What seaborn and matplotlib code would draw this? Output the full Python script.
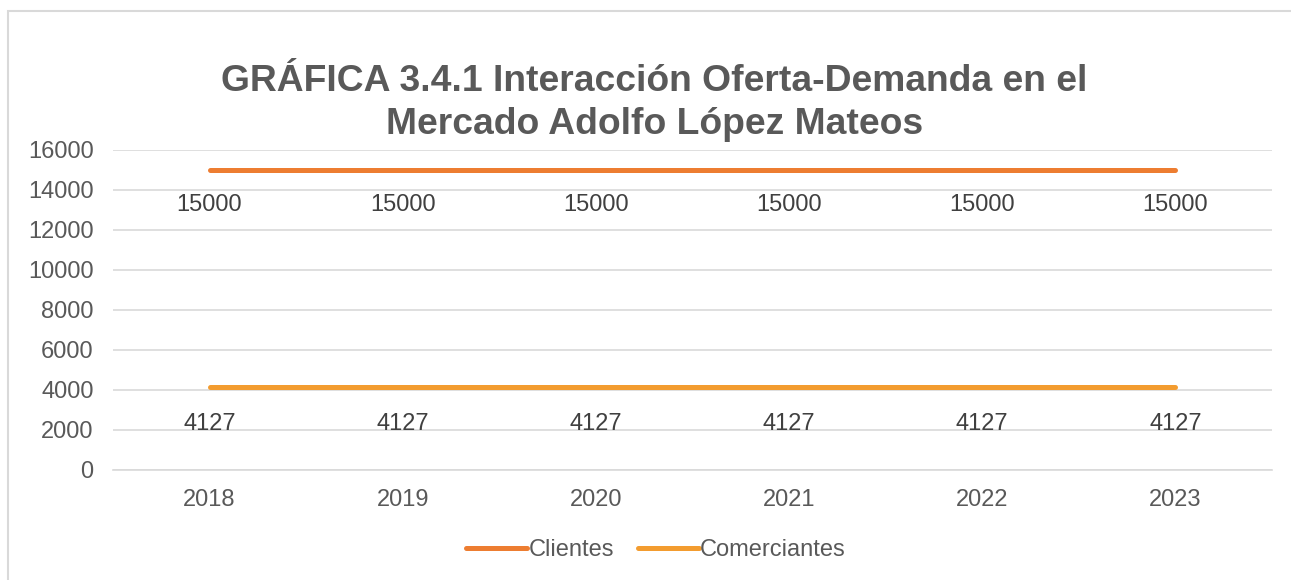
import matplotlib
matplotlib.use("Agg")
import matplotlib.pyplot as plt
import seaborn as sns
import pandas as pd
from matplotlib.patches import Rectangle

years = ["2018", "2019", "2020", "2021", "2022", "2023"]
clientes = [15000, 15000, 15000, 15000, 15000, 15000]
comerciantes = [4127, 4127, 4127, 4127, 4127, 4127]

df = pd.DataFrame({"year": years * 2,
                   "value": clientes + comerciantes,
                   "serie": ["Clientes"] * 6 + ["Comerciantes"] * 6})

sns.set_style("white")
plt.rcParams['font.family'] = ['Liberation Sans', 'DejaVu Sans']

fig = plt.figure(figsize=(12.91, 5.80), dpi=100)
ax = fig.add_axes([0.0875, 0.1897, 0.8978, 0.5517])

colors = {"Clientes": "#ED7D31", "Comerciantes": "#F39C2F"}
sns.lineplot(data=df, x="year", y="value", hue="serie", palette=colors,
             linewidth=3.6, ax=ax, sort=False, legend=True)
for line in ax.lines:
    line.set_solid_capstyle("round")

ax.set_ylim(0, 16000)
ax.set_xlim(-0.5, 5.5)
ax.set_yticks(range(0, 16001, 2000))
ax.yaxis.grid(True, color="#D9D9D9", linewidth=1.2)
ax.set_axisbelow(True)
for s in ["top", "right", "left"]:
    ax.spines[s].set_visible(False)
ax.spines["bottom"].set_color("#D9D9D9")
ax.spines["bottom"].set_linewidth(1.2)
ax.tick_params(axis="both", labelsize=17, labelcolor="#595959", length=0, pad=14)
ax.set_xlabel("")
ax.set_ylabel("")

# etiquetas de datos debajo de cada punto
for i, y in enumerate(years):
    ax.annotate(str(clientes[i]), (i, clientes[i]), xytext=(0, -25), textcoords="offset points",
                ha="center", va="center", fontsize=17, color="#404040")
    ax.annotate(str(comerciantes[i]), (i, comerciantes[i]), xytext=(0, -26), textcoords="offset points",
                ha="center", va="center", fontsize=17, color="#404040")

fig.text(0.507, 0.823, "GRÁFICA 3.4.1 Interacción Oferta-Demanda en el\nMercado Adolfo López Mateos",
         ha="center", va="center", fontsize=26.8, fontweight="bold", color="#595959", linespacing=1.3)

leg = ax.legend(loc="center", bbox_to_anchor=(0.4685, -0.25), ncol=2, frameon=False,
                fontsize=17, handlelength=2.6, handletextpad=0.05, columnspacing=1.0)
for t in leg.get_texts():
    t.set_color("#595959")

fig.patches.append(Rectangle((8 / 1291, -0.1), 1.2, 1.1 - 11 / 580, transform=fig.transFigure,
                             fill=False, edgecolor="#D9D9D9", linewidth=1.5))

fig.savefig("out.png", dpi=100)
